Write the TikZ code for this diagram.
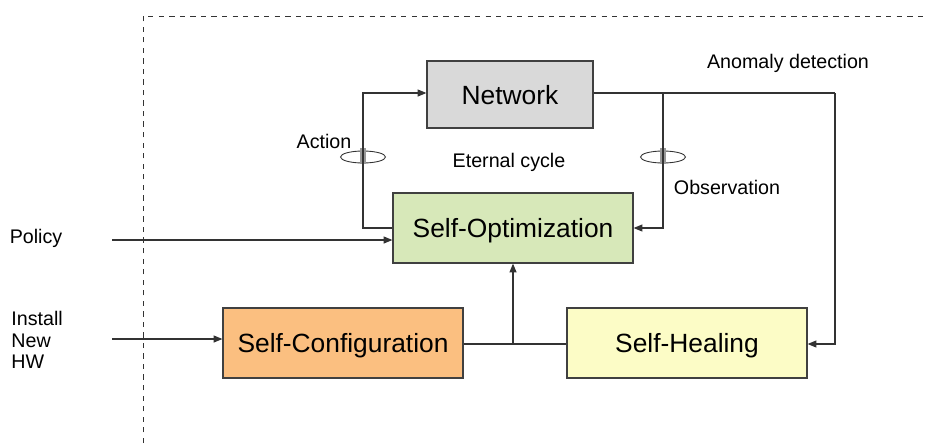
\documentclass[tikz,border=0pt]{standalone}
\usepackage{fontspec}
\setmainfont{Liberation Sans}
\usetikzlibrary{arrows.meta}
\definecolor{netgray}{HTML}{D9D9D9}
\definecolor{optgreen}{HTML}{D7E8B9}
\definecolor{cfgorange}{HTML}{FBBF80}
\definecolor{healyellow}{HTML}{FCFCC6}
\begin{document}
\begin{tikzpicture}[x=0.02cm,y=-0.02cm,
  box/.style={draw=black!75,line width=0.7pt,minimum width=240*0.02cm,minimum height=70*0.02cm,font=\fontsize{15}{17}\selectfont,inner sep=0pt,text height=11.3pt,text depth=0pt},
  lab/.style={font=\fontsize{11.2}{13}\selectfont,inner sep=0pt},
  conn/.style={draw=black!80,line width=0.6pt},
  arr/.style={conn,-{Triangle[length=5pt,width=4pt]}}]
\useasboundingbox (0,0) rectangle (925,443);
% dashed frame
\draw[dashed,line width=0.5pt,black!80] (143,443) -- (143,16) -- (925,16);
% boxes
\node[box,fill=netgray,minimum width=166*0.02cm,minimum height=67*0.02cm] (net) at (510,94.5) {Network};
\node[box,fill=optgreen] (opt) at (513,228) {Self-Optimization};
\node[box,fill=cfgorange] (cfg) at (343,343) {Self-Configuration};
\node[box,fill=healyellow] (heal) at (687,343) {Self-Healing};
% coordinates
\coordinate (a1) at (363,228);
\coordinate (a2) at (363,93);
\coordinate (o1) at (663,93);
\coordinate (o2) at (663,228);
\coordinate (h1) at (835,93);
\coordinate (h2) at (835,344);
\coordinate (j) at (513,344);
\coordinate (pol) at (112,240);
\coordinate (inst) at (112,339);
% connectors
\draw[arr] (opt.west |- a1) -- (a1) -- (a2) -- (net.west |- a2);
\draw[conn] (net.east |- o1) -- (h1);
\draw[arr] (o1) -- (o2) -- (opt.east |- o2);
\draw[arr] (h1) -- (h2) -- (heal.east |- h2);
\draw[conn] (cfg.east |- j) -- (heal.west |- j);
\draw[arr] (j) -- (opt.south);
\draw[arr] (pol) -- (opt.west |- pol);
\draw[arr] (inst) -- (cfg.west |- inst);
% ellipses and ticks
\foreach \cx in {363,663}{
  \draw[black!80,line width=0.5pt] (\cx,157) ellipse (22.5*0.02cm and 6*0.02cm);
  \draw[black!40,line width=0.7pt] (\cx-2,148) -- (\cx-2,164) (\cx+2,148) -- (\cx+2,164);
}
% labels
\node[lab] (lanom) at (788,63) {Anomaly detection};
\node[lab] (lact) at (324,141) {Action};
\node[lab] (lcyc) at (509,162) {Eternal cycle};
\node[lab] (lobs) at (727,187) {Observation};
\node[lab] (lpol) at (36,238) {Policy};
\node[lab,align=left,anchor=west,font=\fontsize{11.2}{12.2}\selectfont] (linst) at (11,340) {Install\\New\\HW};
\end{tikzpicture}
\end{document}
